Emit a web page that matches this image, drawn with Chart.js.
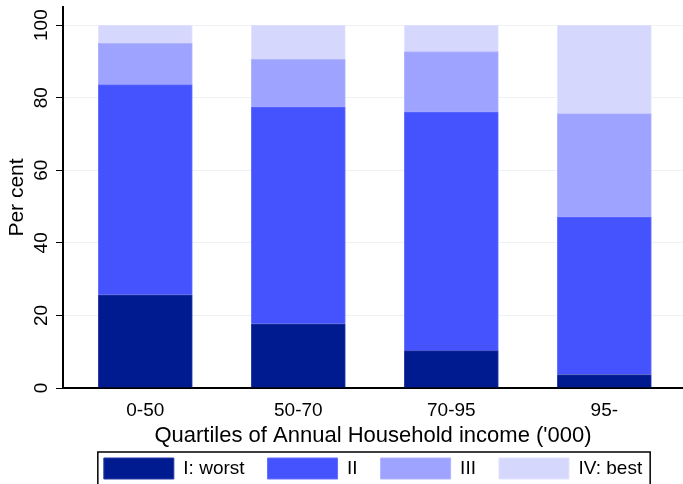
<!DOCTYPE html>
<html>
<head>
<meta charset="utf-8">
<script src="https://cdn.jsdelivr.net/npm/chart.js@4.4.0/dist/chart.umd.min.js"></script>
<style>
  html, body { margin: 0; padding: 0; background: #fff; }
  #wrap { width: 683px; height: 484px; }
</style>
</head>
<body>
<div id="wrap"><canvas id="qualityChart"></canvas></div>
<script>
// =========================
// ДАННЫЕ
// =========================
const categories = ["0-50", "50-70", "70-95", "95-"];              // Квартили дохода
const seriesNames = ["I: worst", "II", "III", "IV: best"];        // Группы
const worstVals = [25.7, 17.7, 10.3, 3.7];
const secondVals = [57.9, 59.8, 65.8, 43.5];
const thirdVals = [11.4, 13.1, 16.6, 28.4];
const bestVals = [5.0, 9.4, 7.3, 24.4];
const yTicks = [0, 20, 40, 60, 80, 100];

const FONT = "'Liberation Sans', Arial, Helvetica, sans-serif";
const fills = ["#001a8f", "#4553ff", "#9ea3ff", "#d5d7fd"];
const edges = ["#2b3aa6", "#6670ff", "#b0b4ff", "#e2e3fe"];

// Подписи оси Y повернуты как в Stata
const rotatedYTicks = {
  id: "rotatedYTicks",
  afterDraw(chart) {
    const y = chart.scales.y;
    const ctx = chart.ctx;
    ctx.save();
    ctx.font = `19px ${FONT}`;
    ctx.fillStyle = "#000";
    ctx.textAlign = "center";
    ctx.textBaseline = "alphabetic";
    y.ticks.forEach(t => {
      ctx.save();
      ctx.translate(y.right - 16, y.getPixelForValue(t.value));
      ctx.rotate(-Math.PI / 2);
      ctx.fillText(String(t.value), 0, 0);
      ctx.restore();
    });
    ctx.restore();
  }
};

// Рамка вокруг легенды
const legendFrame = {
  id: "legendFrame",
  afterDraw(chart) {
    const boxes = chart.legend && chart.legend.legendHitBoxes;
    if (!boxes || !boxes.length) return;
    const left = Math.min(...boxes.map(b => b.left)) - 6;
    const right = Math.max(...boxes.map(b => b.left + b.width)) + 8;
    const top = boxes[0].top - 6;
    const ctx = chart.ctx;
    ctx.save();
    ctx.strokeStyle = "#000";
    ctx.lineWidth = 1.5;
    ctx.strokeRect(left, top, right - left, 60);
    ctx.restore();
  }
};

const seriesData = [worstVals, secondVals, thirdVals, bestVals];

new Chart(document.getElementById("qualityChart"), {
  type: "bar",
  data: {
    datasets: seriesNames.map((name, i) => ({
      label: name,
      data: seriesData[i].map((v, j) => ({ x: j + 1, y: v })),   // позиция = номер квартиля
      backgroundColor: fills[i],
      borderColor: edges[i],
      borderWidth: 1,
      barThickness: 94
    }))
  },
  options: {
    responsive: true,
    maintainAspectRatio: false,
    animation: false,
    layout: { padding: { top: 7, right: 0, left: 0, bottom: -5 } },
    plugins: {
      legend: {
        position: "bottom",
        fullSize: false,
        labels: {
          boxWidth: 70,
          boxHeight: 21,
          padding: 23,
          color: "#000",
          font: { family: FONT, size: 19 }
        }
      },
      tooltip: { enabled: false }
    },
    scales: {
      x: {
        type: "linear",
        stacked: true,
        offset: false,
        min: 0.462,
        max: 4.514,
        afterBuildTicks: s => { s.ticks = categories.map((_, i) => ({ value: i + 1 })); },
        grid: { display: false, drawTicks: false, offset: false },
        border: { color: "#000", width: 2 },
        ticks: {
          autoSkip: false,
          maxRotation: 0,
          color: "#000",
          padding: 11,
          font: { family: FONT, size: 19 },
          callback: v => categories[v - 1] ?? ""
        },
        title: {
          display: true,
          text: "Quartiles of Annual Household income ('000)",
          color: "#000",
          font: { family: FONT, size: 22 },
          padding: { top: 0, bottom: -14 }
        },
        afterFit: s => { s.height = 47; }
      },
      y: {
        stacked: true,
        min: 0,
        max: 105,
        afterBuildTicks: s => { s.ticks = yTicks.map(v => ({ value: v })); },
        grid: { color: "#eef2f2", tickColor: "#000", tickLength: 7, lineWidth: 1 },
        border: { color: "#000", width: 2 },
        ticks: { display: false },
        title: {
          display: true,
          text: "Per cent",
          color: "#000",
          font: { family: FONT, size: 21 },
          padding: { top: 5, bottom: 0 }
        },
        afterFit: s => { s.width = 63; }
      }
    }
  },
  plugins: [rotatedYTicks, legendFrame]
});
</script>
</body>
</html>
